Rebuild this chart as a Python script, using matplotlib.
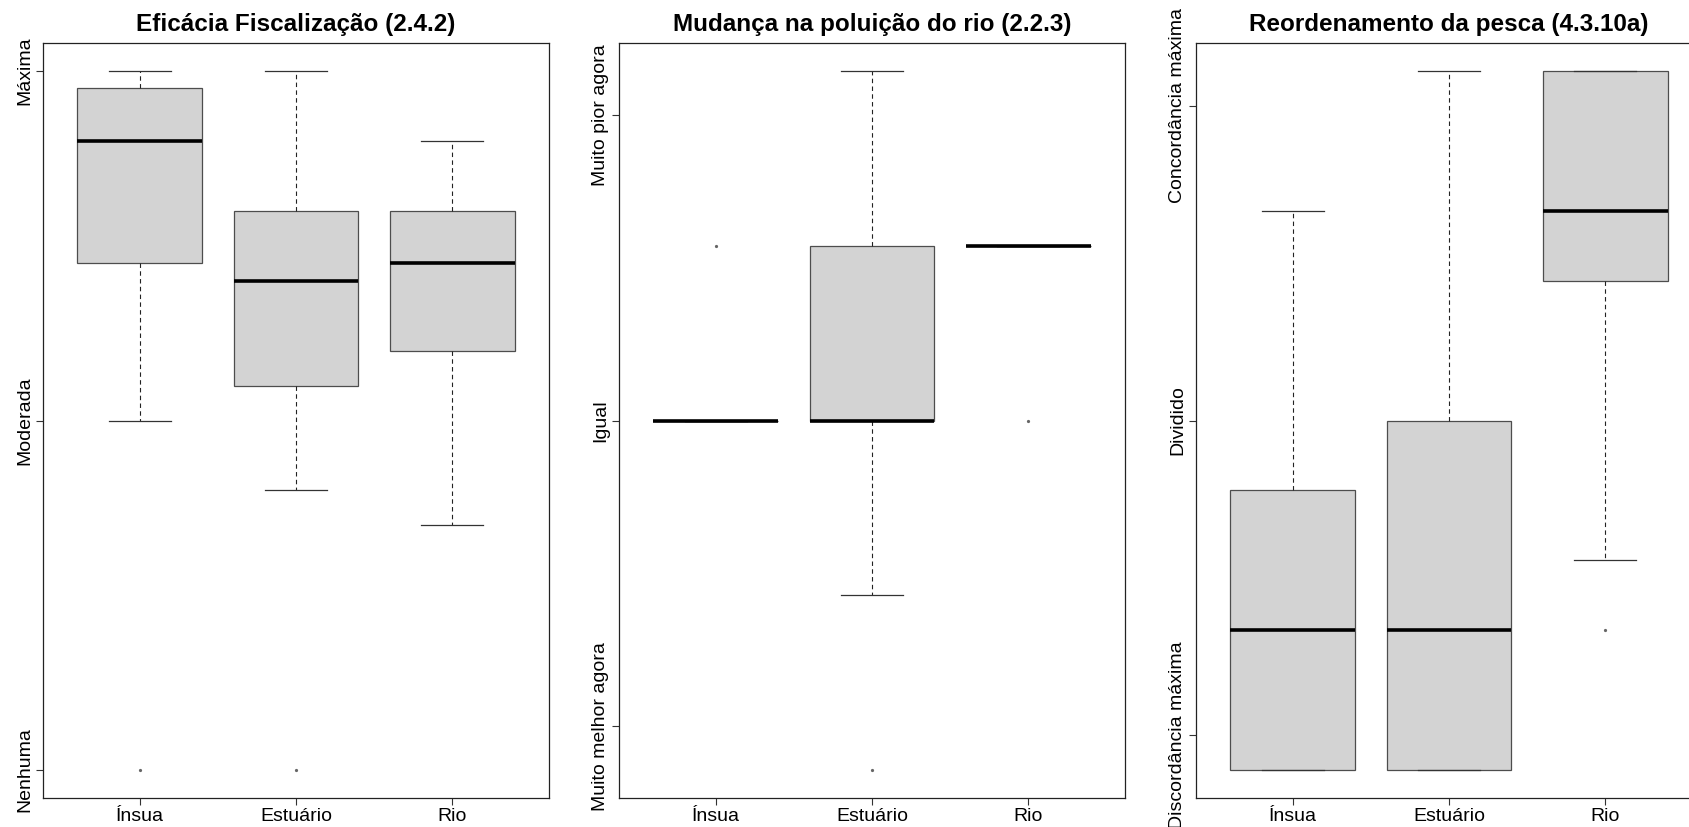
import matplotlib
matplotlib.use("Agg")
import matplotlib.pyplot as plt

plt.rcParams["font.family"] = ["Liberation Sans", "DejaVu Sans"]

groups = ["Ínsua", "Estuário", "Rio"]

# --- Eficácia Fiscalização (2.4.2), escala 0-20 ---
fisc_lo = [10, 8, 7]
fisc_q1 = [14.5, 11, 12]
fisc_med = [18, 14, 14.5]
fisc_q3 = [19.5, 16, 16]
fisc_hi = [20, 20, 18]
fisc_out = [[0], [0], []]
fisc_ticks = [0, 10, 20]
fisc_labels = ["Nenhuma", "Moderada", "Máxima"]

# --- Mudança na poluição do rio (2.2.3), escala -4..4 ---
pol_lo = [0, -2, 2]
pol_q1 = [0, 0, 2]
pol_med = [0, 0, 2]
pol_q3 = [0, 2, 2]
pol_hi = [0, 4, 2]
pol_out = [[2], [-4], [0]]
pol_ticks = [-3.5, 0, 3.5]
pol_labels = ["Muito melhor agora", "Igual", "Muito pior agora"]

# --- Reordenamento da pesca (4.3.10a), escala 0-20 ---
pesca_lo = [0, 0, 6]
pesca_q1 = [0, 0, 14]
pesca_med = [4, 4, 16]
pesca_q3 = [8, 10, 20]
pesca_hi = [16, 20, 20]
pesca_out = [[], [], [4]]
pesca_ticks = [1, 10, 19]
pesca_labels = ["Discordância máxima", "Dividido", "Concordância máxima"]

panels = [
    ("Eficácia Fiscalização (2.4.2)", fisc_lo, fisc_q1, fisc_med, fisc_q3,
     fisc_hi, fisc_out, fisc_ticks, fisc_labels),
    ("Mudança na poluição do rio (2.2.3)", pol_lo, pol_q1, pol_med, pol_q3,
     pol_hi, pol_out, pol_ticks, pol_labels),
    ("Reordenamento da pesca (4.3.10a)", pesca_lo, pesca_q1, pesca_med,
     pesca_q3, pesca_hi, pesca_out, pesca_ticks, pesca_labels),
]

W, H = 1690, 827
fig = plt.figure(figsize=(W / 100, H / 100), dpi=100)

lefts = [43, 619, 1196]
for left, (title, lo, q1, med, q3, hi, out, ticks, labels) in zip(lefts, panels):
    ax = fig.add_axes([left / W, 1 - 798 / H, 506 / W, (798 - 43) / H])
    stats = [
        dict(whislo=lo[i], q1=q1[i], med=med[i], q3=q3[i], whishi=hi[i],
             fliers=out[i], label=groups[i])
        for i in range(len(groups))
    ]
    ax.bxp(
        stats,
        positions=[1, 2, 3],
        widths=0.8,
        patch_artist=True,
        boxprops=dict(facecolor="#d3d3d3", edgecolor="#4d4d4d", lw=0.9),
        medianprops=dict(color="black", lw=2.6, solid_capstyle="butt"),
        whiskerprops=dict(color="#222222", lw=0.8, ls=(0, (4, 3))),
        capprops=dict(color="#333333", lw=0.9),
        capwidths=0.4,
        flierprops=dict(marker="o", ms=1.3, mfc="#666666", mec="#666666"),
    )
    vals = lo + hi + [v for o in out for v in o]
    span = max(vals) - min(vals)
    ax.set_ylim(min(vals) - 0.04 * span, max(vals) + 0.04 * span)
    ax.set_xlim(0.38, 3.62)
    ax.set_yticks(ticks)
    ax.set_yticklabels(labels, rotation=90, va="center", fontsize=14)
    ax.set_xticks([1, 2, 3])
    ax.set_xticklabels(groups, fontsize=14)
    ax.tick_params(axis="both", length=5, width=0.8, color="#333333", pad=2)
    for s in ax.spines.values():
        s.set_linewidth(0.9)
        s.set_color("#222222")
    ax.set_title(title, fontsize=17.5, fontweight="bold", pad=9)

fig.savefig("out.png", dpi=100)
